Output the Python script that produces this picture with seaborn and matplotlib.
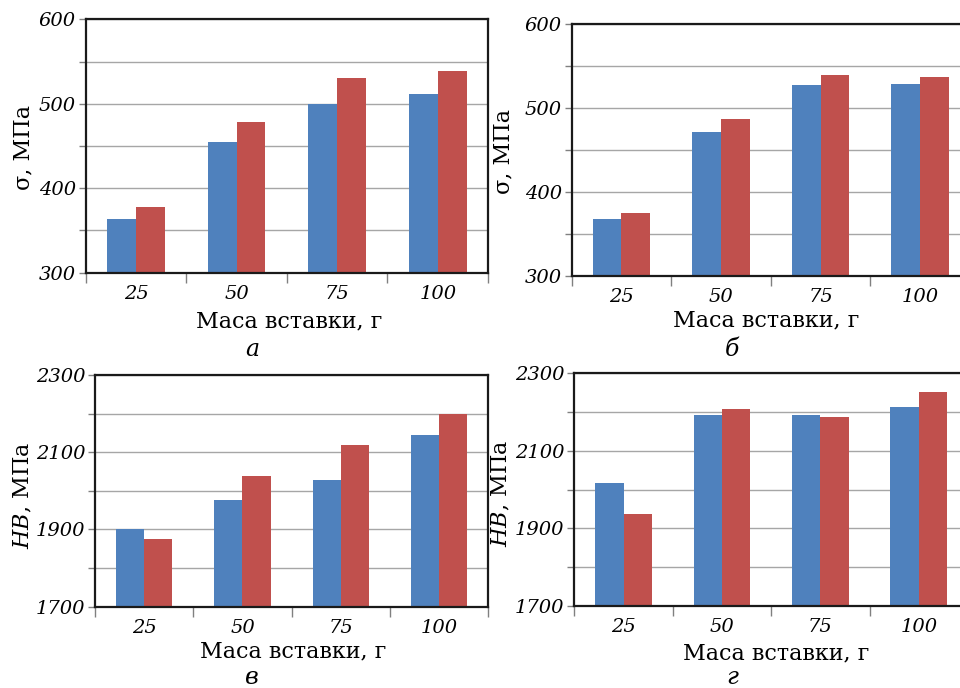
import numpy as np
import pandas as pd
import matplotlib
matplotlib.use("Agg")
import matplotlib.pyplot as plt
from matplotlib.ticker import FixedLocator
import seaborn as sns

sns.set_theme(style="white")
plt.rcParams['font.family'] = ['DejaVu Serif']
plt.rcParams['text.color'] = 'black'
plt.rcParams['xtick.labelcolor'] = 'black'
plt.rcParams['ytick.labelcolor'] = 'black'
plt.rcParams['mathtext.fontset'] = 'dejavuserif'

masses = ["25", "50", "75", "100"]
series = ["s1", "s2"]
sigma_a_1 = [364, 455, 500, 511]
sigma_a_2 = [378, 478, 531, 539]
sigma_b_1 = [368, 472, 528, 529]
sigma_b_2 = [375, 487, 540, 537]
hb_v_1 = [1900, 1977, 2028, 2144]
hb_v_2 = [1875, 2038, 2119, 2199]
hb_g_1 = [2018, 2192, 2192, 2212]
hb_g_2 = [1938, 2208, 2187, 2252]

sigma_ticks = [300, 400, 500, 600]
sigma_grid = [350, 450, 550]
hb_ticks = [1700, 1900, 2100, 2300]
hb_grid = [1800, 2000, 2200]

xlabel = "Маса вставки, г"
letters = ["а", "б", "в", "г"]

BLUE = "#4F81BD"
RED = "#C0504D"

W, H = 960, 688
fig = plt.figure(figsize=(9.6, 6.88), dpi=100)

def px_axes(l, r, t, b):
    return fig.add_axes([l / W, 1 - b / H, (r - l) / W, (b - t) / H])

def fx(x):
    return x / W

def fy(y):
    return 1 - y / H

panels = [
    dict(box=(85.7, 488, 19.3, 272.7), v1=sigma_a_1, v2=sigma_a_2, ylim=(300, 600),
         ticks=sigma_ticks, grid=sigma_grid,
         ylab="σ, МПа", ylab_xy=(23, 147), xlab_xy=(289, 321.7), let_xy=(252, 350)),
    dict(box=(571.7, 969.8, 24.3, 275.7), v1=sigma_b_1, v2=sigma_b_2, ylim=(300, 600),
         ticks=sigma_ticks, grid=sigma_grid,
         ylab="σ, МПа", ylab_xy=(503, 151.7), xlab_xy=(766, 320), let_xy=(732, 349)),
    dict(box=(95, 488.3, 375, 606.7), v1=hb_v_1, v2=hb_v_2, ylim=(1700, 2300),
         ticks=hb_ticks, grid=hb_grid,
         ylab="HB", ylab_xy=(23, 495), xlab_xy=(293, 651.7), let_xy=(252, 677)),
    dict(box=(574.3, 968, 373.3, 605.7), v1=hb_g_1, v2=hb_g_2, ylim=(1700, 2300),
         ticks=hb_ticks, grid=hb_grid,
         ylab="HB", ylab_xy=(501.7, 493.3), xlab_xy=(776, 653.3), let_xy=(732, 677)),
]

for i, p in enumerate(panels):
    ax = px_axes(*p["box"])
    df = pd.DataFrame({
        "mass": masses * 2,
        "val": list(p["v1"]) + list(p["v2"]),
        "series": [series[0]] * 4 + [series[1]] * 4,
    })
    sns.barplot(data=df, x="mass", y="val", hue="series", palette=[BLUE, RED],
                width=0.575, gap=0, ax=ax, legend=False, saturation=1,
                edgecolor="none", linewidth=0)
    ax.set_ylim(*p["ylim"])
    ax.set_xlim(-0.5, 3.5)
    ax.set_xlabel("")
    ax.set_ylabel("")
    ax.yaxis.set_major_locator(FixedLocator(p["ticks"]))
    ax.yaxis.set_minor_locator(FixedLocator(p["grid"]))
    ax.grid(True, which="both", axis="y", color="#a6a6a6", linewidth=1.0)
    ax.grid(False, axis="x")
    ax.set_axisbelow(True)
    ax.xaxis.set_minor_locator(FixedLocator([-0.5, 0.5, 1.5, 2.5, 3.5]))
    ax.tick_params(axis="x", which="major", length=0, pad=9, labelsize=14)
    ax.tick_params(axis="x", which="minor", length=7, width=1, color="#808080", direction="out", bottom=True)
    ax.tick_params(axis="y", which="both", length=5, width=1, color="#808080", direction="out",
                   left=True, pad=2, labelsize=14)
    for lab in ax.get_xticklabels() + ax.get_yticklabels():
        lab.set_fontstyle("italic")
    for s in ax.spines.values():
        s.set_visible(True)
        s.set_color("#1a1a1a")
        s.set_linewidth(1.6)

    fig.text(fx(p["xlab_xy"][0]), fy(p["xlab_xy"][1]), xlabel, ha="center", va="center", fontsize=16)
    fig.text(fx(p["let_xy"][0]), fy(p["let_xy"][1]), letters[i], ha="center", va="center",
             fontsize=17, fontstyle="italic")
    if p["ylab"] == "HB":
        fig.text(fx(p["ylab_xy"][0]), fy(p["ylab_xy"][1]), r"$\mathit{HB}$, МПа", ha="center", va="center",
                 rotation=90, fontsize=16)
    else:
        fig.text(fx(p["ylab_xy"][0]), fy(p["ylab_xy"][1]), p["ylab"], ha="center", va="center",
                 rotation=90, fontsize=16)

fig.savefig("out.png", dpi=100)
